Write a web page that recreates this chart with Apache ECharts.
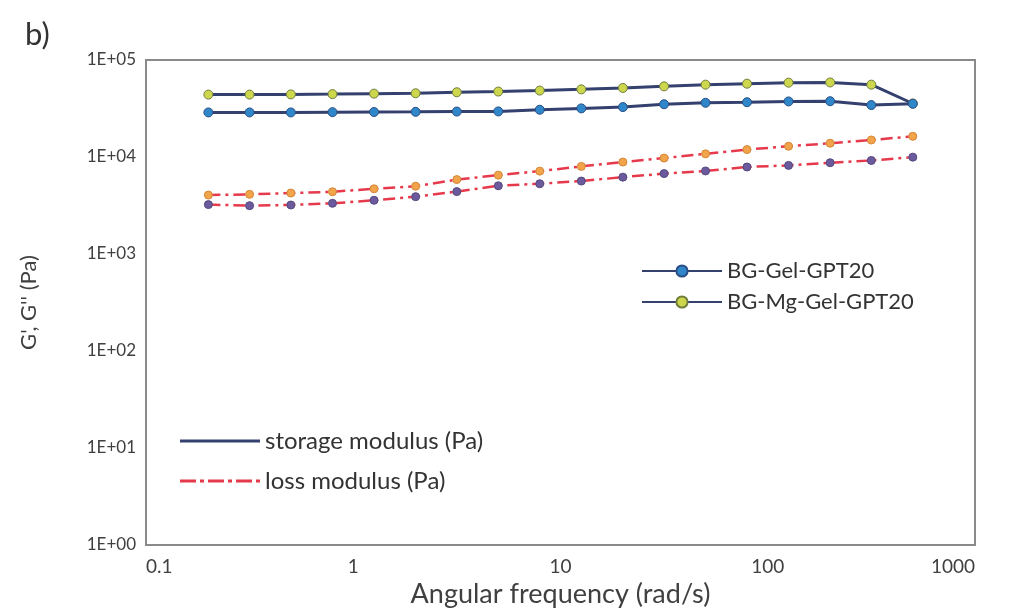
<!DOCTYPE html>
<html>
<head>
<meta charset="utf-8">
<script src="https://cdn.jsdelivr.net/npm/echarts@6/dist/echarts.min.js"></script>
<style>
  html, body { margin: 0; padding: 0; background: #fff; }
  #chart { width: 1009px; height: 613px; }
</style>
</head>
<body>
<div id="chart"></div>
<script>
// angular frequency (rad/s)
const freq = [0.2, 0.316, 0.5, 0.794, 1.26, 2, 3.16, 5.01, 7.94, 12.6, 20, 31.6, 50.1, 79.4, 126, 200, 316, 501]

// storage modulus G' (Pa)
const storageGel = [28800, 28800, 28800, 29000, 29100, 29200, 29400, 29500, 30700, 31700, 32700, 35000, 36200, 36700, 37400, 37600, 34300, 35400]
const storageMg = [44000, 44000, 44200, 44500, 45000, 45400, 46500, 47300, 48400, 49800, 51500, 53500, 55700, 57000, 58400, 58700, 55700, 35600]

// loss modulus G'' (Pa)
const lossGel = [3230, 3150, 3200, 3330, 3580, 3900, 4400, 5050, 5300, 5650, 6200, 6745, 7180, 7890, 8190, 8730, 9210, 9970]
const lossMg = [4050, 4120, 4250, 4380, 4700, 5000, 5850, 6500, 7150, 8000, 8870, 9745, 10780, 11930, 12910, 13860, 14980, 16340]

const sampleNames = ['BG-Gel-GPT20', 'BG-Mg-Gel-GPT20']
const modulusNames = ['storage modulus (Pa)', 'loss modulus (Pa)']

const font = 'Lato'
const txt = '#404040'
const navy = '#34406e'
const red = '#e63a4c'

const pair = (ys) => freq.map((x, i) => [x, ys[i]])

const chart = echarts.init(document.getElementById('chart'))

const option = {
    animation: false,
    backgroundColor: '#fff',
    title: {
        text: 'b)',
        left: 20,
        top: 14,
        textStyle: { fontFamily: font, fontSize: 31, fontWeight: 'normal', color: '#333' }
    },
    grid: {
        left: 146,
        right: 34,
        top: 60,
        bottom: 62,
        show: true,
        borderColor: '#8a8a8a',
        borderWidth: 2
    },
    xAxis: {
        type: 'log',
        logBase: 10,
        min: 0.1,
        max: 1000,
        name: 'Angular frequency (rad/s)',
        nameLocation: 'middle',
        nameGap: 36,
        nameTextStyle: { fontFamily: font, fontSize: 27, color: txt },
        axisLine: { lineStyle: { color: '#8a8a8a', width: 2 } },
        axisTick: { show: false },
        splitLine: { show: false },
        axisLabel: {
            margin: 12,
            fontFamily: font,
            fontSize: 19,
            color: txt,
            alignMinLabel: 'left',
            alignMaxLabel: 'right',
            formatter: (v) => String(v)
        }
    },
    yAxis: {
        type: 'log',
        logBase: 10,
        min: 1,
        max: 100000,
        name: "G', G'' (Pa)",
        nameLocation: 'middle',
        nameGap: 106,
        nameTextStyle: { fontFamily: font, fontSize: 22, color: txt },
        axisLine: { lineStyle: { color: '#8a8a8a', width: 2 } },
        axisTick: { show: false },
        splitLine: { show: false },
        axisLabel: {
            margin: 10,
            fontFamily: font,
            fontSize: 17,
            color: txt,
            formatter: (v) => '1E+' + String(Math.round(Math.log10(v))).padStart(2, '0')
        }
    },
    legend: [
        {
            data: sampleNames,
            orient: 'vertical',
            left: 636,
            top: 253,
            itemWidth: 80,
            itemHeight: 14,
            itemGap: 5,
            textStyle: { fontFamily: font, fontSize: 22, color: '#333', lineHeight: 26 }
        },
        {
            data: [
                { name: modulusNames[0], icon: 'path://M0,0H80V3H0Z', itemStyle: { color: navy } },
                { name: modulusNames[1], icon: 'path://M0,0H16V3H0Z M20,0H24V3H20Z M28,0H44V3H28Z M48,0H52V3H48Z M56,0H72V3H56Z M76,0H80V3H76Z', itemStyle: { color: red } }
            ],
            orient: 'vertical',
            left: 175,
            top: 422,
            itemWidth: 80,
            itemHeight: 3,
            itemGap: 12,
            textStyle: { fontFamily: font, fontSize: 24, color: '#333', lineHeight: 28 }
        }
    ],
    series: [
        {
            name: sampleNames[0],
            type: 'line',
            data: pair(storageGel),
            symbol: 'circle',
            symbolSize: 9,
            lineStyle: { color: navy, width: 3 },
            itemStyle: { color: '#2f86c8', borderColor: '#2a4f86', borderWidth: 1 },
            z: 4
        },
        {
            name: sampleNames[1],
            type: 'line',
            data: pair(storageMg),
            symbol: 'circle',
            symbolSize: 9,
            lineStyle: { color: navy, width: 3 },
            itemStyle: { color: '#cdd74e', borderColor: '#6f7c3c', borderWidth: 1 },
            z: 3
        },
        {
            name: "BG-Gel-GPT20 G''",
            type: 'line',
            data: pair(lossGel),
            symbol: 'circle',
            symbolSize: 8,
            lineStyle: { color: red, width: 2.5, type: [12, 5, 3, 5] },
            itemStyle: { color: '#6b5b9e', borderColor: '#55497d', borderWidth: 1 },
            z: 3
        },
        {
            name: "BG-Mg-Gel-GPT20 G''",
            type: 'line',
            data: pair(lossMg),
            symbol: 'circle',
            symbolSize: 8,
            lineStyle: { color: red, width: 2.5, type: [12, 5, 3, 5] },
            itemStyle: { color: '#f2a44a', borderColor: '#d5873a', borderWidth: 1 },
            z: 3
        },
        // legend-only entries for the line style key
        { name: modulusNames[0], type: 'line', data: [], symbol: 'none', itemStyle: { color: navy }, lineStyle: { color: navy } },
        { name: modulusNames[1], type: 'line', data: [], symbol: 'none', itemStyle: { color: red }, lineStyle: { color: red } }
    ]
}

chart.setOption(option)
</script>
</body>
</html>
